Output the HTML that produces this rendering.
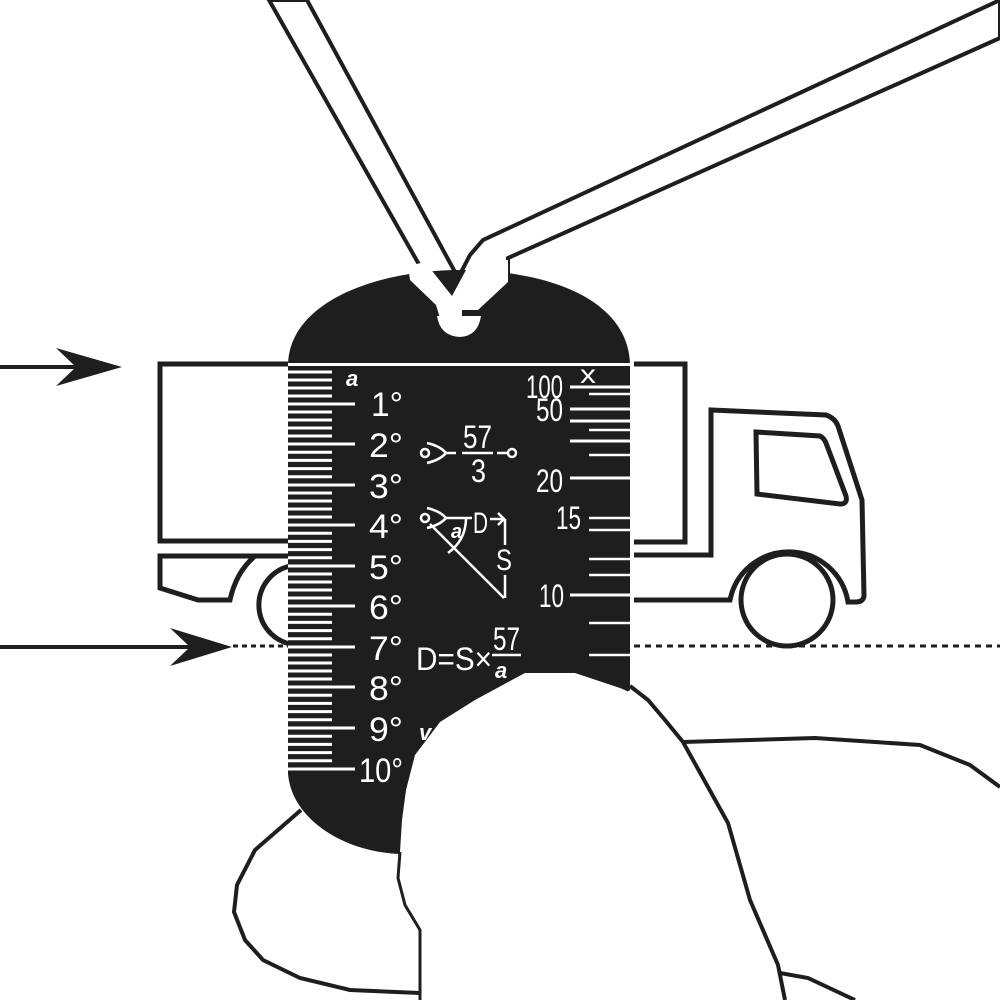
<!DOCTYPE html>
<html><head><meta charset="utf-8"><style>
html,body{margin:0;padding:0;background:#fff;}
svg{display:block}
.t{font-family:"Liberation Sans",sans-serif;fill:#fff;}
</style></head><body>
<svg width="1000" height="1000" viewBox="0 0 1000 1000" xmlns="http://www.w3.org/2000/svg">
<rect width="1000" height="1000" fill="#fff"/>
<polygon points="269,0 307,0 455,272 440,292 425,275" fill="#fff" stroke="#1e1e1e" stroke-width="4"/>
<polygon points="1000,0 1000,38 508,258 508,282 470,300 458,278 470,255 483,240" fill="#fff" stroke="#1e1e1e" stroke-width="4"/>
<line x1="0" y1="367" x2="100" y2="367" stroke="#1e1e1e" stroke-width="4"/>
<polygon points="122,367 56,348 76,367 56,386" fill="#1e1e1e"/>
<line x1="0" y1="647" x2="210" y2="647" stroke="#1e1e1e" stroke-width="4"/>
<polygon points="232,647 170,628 190,647 170,666" fill="#1e1e1e"/>
<line x1="233" y1="646" x2="290" y2="646" stroke="#1e1e1e" stroke-width="3" stroke-dasharray="5,4"/>
<line x1="634" y1="646" x2="1000" y2="646" stroke="#1e1e1e" stroke-width="3" stroke-dasharray="6,5"/>
<g fill="none" stroke="#1e1e1e" stroke-width="5">
<polyline points="288,364 160,364 160,541 288,541"/>
<path d="M288,556 L160,556 L160,588 L198,600 L230,600 Q236,572 255,556"/>
<path d="M290,566 A40,40 0 0 0 290,644"/>
<polyline points="634,364 685,364 685,542 634,542"/>
<path d="M634,555 L711,555 L711,410 L826,415 Q835,418 838,426 L862,500 L864,596 Q863,602 856,602 L848,602 A60,60 0 0 0 730,600 L634,600"/>
<circle cx="787" cy="600" r="46"/>
<path d="M756,432 L820,436 Q824,438 826,443 L846,496 Q848,504 840,504 L757,494 Z"/>
</g>
<path d="M288,364 C290,300 380,270 460,270 C550,270 628,300 630,364 L630,690 L400,852 C340,850 288,810 288,770 Z" fill="#1e1e1e"/>
<path d="M288,770 C288,815 340,852 400,854 L400,700 Z" fill="#1e1e1e"/>
<path d="M408,266 L425,262 L452,296 L466,270 L480,262 L508,260 L508,282 L478,310 L462,310 L462,318 L440,318 L436,305 L410,280 Z" fill="#fff"/>
<path d="M437,316 L481,316 Q478,336 460,337 Q440,336 437,316 Z" fill="#fff"/>
<rect x="288" y="363" width="342" height="3" fill="#fff"/>
<g stroke="#fff" stroke-width="3">
<line x1="288" y1="372" x2="332" y2="372"/><line x1="288" y1="380" x2="332" y2="380"/><line x1="288" y1="388" x2="332" y2="388"/><line x1="288" y1="396" x2="332" y2="396"/>
</g>
<g id="ticks" stroke="#fff" stroke-width="3"></g>
<g class="t" font-size="34">
<text x="371" y="416" textLength="32" lengthAdjust="spacingAndGlyphs">1°</text>
<text x="369" y="457" textLength="34" lengthAdjust="spacingAndGlyphs">2°</text>
<text x="369" y="498" textLength="34" lengthAdjust="spacingAndGlyphs">3°</text>
<text x="369" y="538" textLength="34" lengthAdjust="spacingAndGlyphs">4°</text>
<text x="369" y="579" textLength="34" lengthAdjust="spacingAndGlyphs">5°</text>
<text x="369" y="619" textLength="34" lengthAdjust="spacingAndGlyphs">6°</text>
<text x="369" y="660" textLength="34" lengthAdjust="spacingAndGlyphs">7°</text>
<text x="369" y="700" textLength="34" lengthAdjust="spacingAndGlyphs">8°</text>
<text x="369" y="741" textLength="34" lengthAdjust="spacingAndGlyphs">9°</text>
<text x="359" y="782" textLength="44" lengthAdjust="spacingAndGlyphs">10°</text>
<text x="346" y="386" font-size="22" font-style="italic" font-weight="bold">a</text>
<text x="526" y="398" font-size="32" textLength="37" lengthAdjust="spacingAndGlyphs">100</text>
<text x="536" y="421" font-size="32" textLength="27" lengthAdjust="spacingAndGlyphs">50</text>
<text x="536" y="492" font-size="32" textLength="27" lengthAdjust="spacingAndGlyphs">20</text>
<text x="556" y="529" font-size="32" textLength="25" lengthAdjust="spacingAndGlyphs">15</text>
<text x="539" y="607" font-size="32" textLength="25" lengthAdjust="spacingAndGlyphs">10</text>
<text x="580" y="383" font-size="26" textLength="16" lengthAdjust="spacingAndGlyphs">x</text>
<text x="463" y="448" font-size="32" textLength="29" lengthAdjust="spacingAndGlyphs">57</text>
<text x="471" y="482" font-size="32" textLength="15" lengthAdjust="spacingAndGlyphs">3</text>
<text x="473" y="533" font-size="30" textLength="15" lengthAdjust="spacingAndGlyphs">D</text>
<text x="496" y="570" font-size="30" textLength="16" lengthAdjust="spacingAndGlyphs">S</text>
<text x="451" y="538" font-size="20" font-style="italic" font-weight="bold">a</text>
<text x="416" y="670" font-size="32" textLength="76" lengthAdjust="spacingAndGlyphs">D=S×</text>
<text x="493" y="650" font-size="32" textLength="27" lengthAdjust="spacingAndGlyphs">57</text>
<text x="495" y="678" font-size="22" font-style="italic" font-weight="bold">a</text>
<text x="419" y="740" font-size="22" font-style="italic" font-weight="bold">v</text>
</g>
<g stroke="#fff" stroke-width="3">
<line x1="570" y1="387" x2="630" y2="387"/><line x1="570" y1="409" x2="630" y2="409"/><line x1="570" y1="421" x2="630" y2="421"/><line x1="570" y1="441" x2="630" y2="441"/><line x1="570" y1="478" x2="630" y2="478"/><line x1="570" y1="595" x2="630" y2="595"/>
</g>
<g stroke="#fff" stroke-width="2.5">
<line x1="589" y1="394" x2="630" y2="394"/><line x1="589" y1="430" x2="630" y2="430"/><line x1="589" y1="455" x2="630" y2="455"/><line x1="589" y1="518" x2="630" y2="518"/><line x1="589" y1="530" x2="630" y2="530"/><line x1="589" y1="559" x2="630" y2="559"/><line x1="589" y1="575" x2="630" y2="575"/><line x1="589" y1="623" x2="630" y2="623"/><line x1="589" y1="655" x2="630" y2="655"/>
</g>
<g fill="none" stroke="#fff" stroke-width="2.5">
<circle cx="425" cy="453" r="4"/>
<path d="M427,443 Q440,446 446,453 Q440,460 427,463"/>
<line x1="446" y1="453" x2="456" y2="453"/>
<line x1="462" y1="453" x2="493" y2="453"/>
<line x1="497" y1="453" x2="507" y2="453"/>
<circle cx="512" cy="453" r="4"/>
<circle cx="425" cy="518" r="4"/>
<path d="M427,508 Q440,511 446,518 Q440,525 427,528"/>
<line x1="446" y1="518" x2="472" y2="518"/>
<path d="M466,518 Q466,540 448,553"/>
<line x1="430" y1="524" x2="504" y2="598"/>
<line x1="490" y1="519" x2="504" y2="519"/>
<path d="M498,513 L504,519 L498,525"/>
<line x1="505" y1="519" x2="505" y2="545"/>
<line x1="505" y1="575" x2="505" y2="598"/>
<line x1="492" y1="655" x2="521" y2="655"/>
</g>
<path d="M301,810 L255,850 L237,885 L234,912 L245,940 L263,960 L300,978 L350,990 L420,993" fill="none" stroke="#1e1e1e" stroke-width="4"/>
<path d="M420,1000 L420,930 L405,905 L398,878 L400,852 L402,820 L406,790 L415,755 L440,722 L475,700 L525,673 L575,673 L620,688 L648,700 L665,720 L683,742 L728,823 L750,900 L778,965 L785,1000 Z" fill="#fff"/>
<path d="M630,686 L648,700 L665,720 L683,742 L728,823 L750,900 L778,965 L785,1000" fill="none" stroke="#1e1e1e" stroke-width="4"/>
<polyline points="683,742 815,738 920,745 970,765 1000,787" fill="none" stroke="#1e1e1e" stroke-width="4"/>
<polyline points="780,973 808,978 855,1000" fill="none" stroke="#1e1e1e" stroke-width="4"/>
<polyline points="400,852 398,878 405,905 420,930 420,1000" fill="none" stroke="#1e1e1e" stroke-width="3"/>
</svg>
<script>
(function(){var g=document.getElementById('ticks');var ns='http://www.w3.org/2000/svg';
var ys=[404,444,485,525,566,606,647,687,728,769];
for(var i=0;i<ys.length;i++){var l=document.createElementNS(ns,'line');l.setAttribute('x1',288);l.setAttribute('x2',355);l.setAttribute('y1',ys[i]);l.setAttribute('y2',ys[i]);g.appendChild(l);
if(i<ys.length-1){var d=(ys[i+1]-ys[i])/5;for(var k=1;k<5;k++){var m=document.createElementNS(ns,'line');var y=ys[i]+d*k;m.setAttribute('x1',288);m.setAttribute('x2',332);m.setAttribute('y1',y);m.setAttribute('y2',y);g.appendChild(m);}}}})();
</script>
</body></html>
